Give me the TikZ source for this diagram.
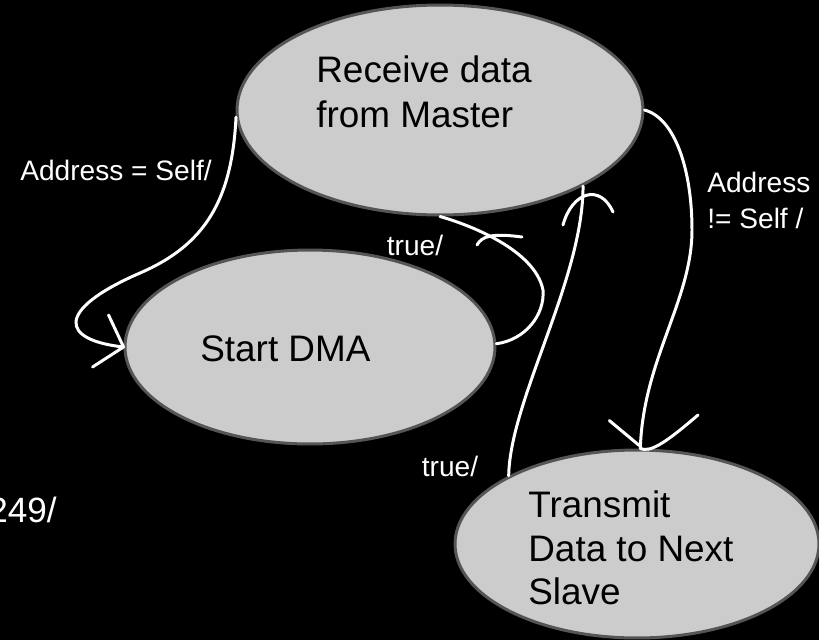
\documentclass[tikz,border=0pt]{standalone}
\usepackage{fontspec}
\setmainfont{Liberation Sans}
\usetikzlibrary{shapes.geometric}
\definecolor{stategray}{HTML}{CCCCCC}
\definecolor{borderg}{HTML}{555555}
\begin{document}
\begin{tikzpicture}[x=0.02cm,y=-0.02cm,
  state/.style={ellipse, draw=borderg, fill=stategray, line width=1.7pt, inner sep=0pt},
  statetext/.style={text=black, font=\fontsize{21}{25.6}\selectfont, align=left, anchor=north west, inner sep=0pt},
  lbl/.style={text=white, font=\fontsize{16}{20.5}\selectfont, inner sep=0pt},
  conn/.style={draw=white, line width=1.7pt, line cap=round, line join=round},
]
\fill[black] (0,0) rectangle (819,640);
\useasboundingbox (0,0) rectangle (819,640);

% states
\node[state, minimum width=8.12cm, minimum height=4.2cm] (recv) at (440,110) {};
\node[state, minimum width=7.4cm, minimum height=3.88cm] (dma) at (310,347) {};
\node[state, minimum width=7.28cm, minimum height=3.76cm] (trans) at (637,544) {};

\node[statetext] (recvtext) at (316,55) {Receive data\\from Master};
\node[statetext] (dmatext) at (200,335) {Start DMA};
\node[statetext, font=\fontsize{21}{25}\selectfont] (transtext) at (528,490) {Transmit\\Data to Next\\Slave};

% labels
\node[lbl, anchor=west] (l1) at (20,170) {Address = Self/};
\node[lbl, anchor=west, align=left] (l2) at (707,200) {Address\\!= Self /};
\node[lbl] (l3) at (415,245) {true/};
\node[lbl] (l4) at (450,466) {true/};
\node[lbl, anchor=east, font=\fontsize{20}{24}\selectfont] (l5) at (57,510) {249/};

% Address = Self/ : receive -> start DMA
\draw[conn] (recv.182) .. controls (232,200) and (205,245) .. (140,273)
  .. controls (55,310) and (60,340) .. (dma.180);
\draw[conn] ([shift={(-15,-32)}]dma.180) -- (dma.180) -- ++(-31,20);

% true/ : start DMA -> receive
\draw[conn] (dma.1) .. controls (525,340) and (545,315) .. (543,290)
  .. controls (535,250) and (470,225) .. (recv.270);
\draw[conn] (477,245) .. controls (482,236) and (492,233) .. (522,237);

% true/ : transmit -> receive
\draw[conn] (trans.152) .. controls (510,400) and (583,280) .. (recv.332);
\draw[conn] (563,225) .. controls (572,192) and (600,183) .. (613,212);

% Address != Self / : receive -> transmit
\draw[conn] (recv.0) .. controls (675,118) and (692,170) .. (692,230)
  .. controls (692,300) and (643,360) .. (trans.88);
\draw[conn] ([shift={(-31,-28)}]trans.88) -- ([shift={(-1,-3)}]trans.88);
\draw[conn] (trans.88) .. controls (650,452) and (662,446) .. (698,415);
\end{tikzpicture}
\end{document}
